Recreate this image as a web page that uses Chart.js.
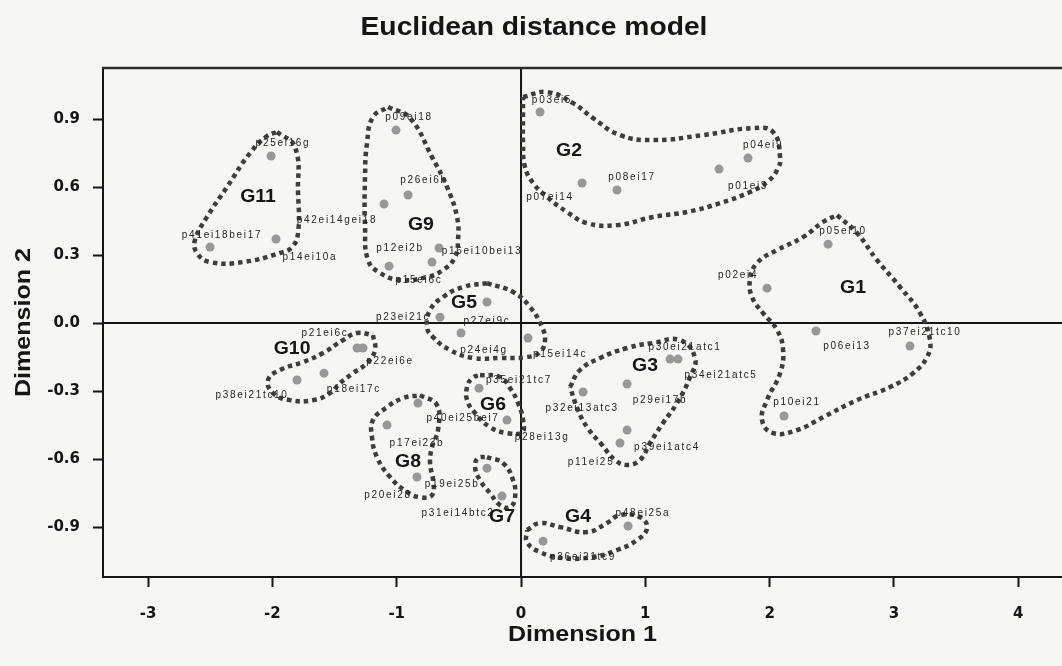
<!DOCTYPE html>
<html lang="en">
<head>
    <meta charset="UTF-8">
    <title>Euclidean distance model</title>
    <script src="https://cdn.jsdelivr.net/npm/chart.js@4.4.1/dist/chart.umd.min.js"></script>
    <style>
        html, body {
            margin: 0;
            padding: 0;
            background: #f6f6f4;
        }
        .chart-box {
            width: 1062px;
            height: 666px;
        }
    </style>
</head>
<body>
    <div class="chart-box">
        <canvas id="mdsChart"></canvas>
    </div>

    <script>
        // stimulus coordinates (dimension 1, dimension 2)
        const pointNames = [
            'p25ei16g', 'p41ei18bei17', 'p14ei10a',
            'p09ei18', 'p26ei6h', 'p42ei14gei18', 'p16ei10bei13', 'p15ei6c', 'p12ei2b',
            'p03ei5', 'p07ei14', 'p08ei17', 'p01ei3', 'p04ei9',
            'p05ei10', 'p02ei4', 'p06ei13', 'p37ei21tc10', 'p10ei21',
            'p21ei6c', 'p22ei6e', 'p18ei17c', 'p38ei21tc10',
            'p23ei21c', 'p27ei9c', 'p24ei4g', 'p15ei14c',
            'p35ei21tc7', 'p28ei13g', 'p40ei25bei7', 'p17ei23b', 'p20ei28', 'p19ei25b', 'p31ei14btc2',
            'p30ei21atc1', 'p34ei21atc5', 'p29ei17b', 'p32ei13atc3', 'p39ei1atc4', 'p11ei25',
            'p48ei25a', 'p36ei21tc9'
        ];
        const dim1 = [
            -2.011, -2.502, -1.971,
            -1.006, -0.909, -1.102, -0.660, -0.716, -1.062,
            0.153, 0.491, 0.772, 1.593, 1.826,
            2.470, 1.979, 2.373, 3.129, 2.116,
            -1.319, -1.271, -1.585, -1.802,
            -0.652, -0.274, -0.483, 0.056,
            -0.338, -0.113, -0.829, -1.078, -0.837, -0.274, -0.153,
            1.199, 1.263, 0.853, 0.499, 0.853, 0.796,
            0.861, 0.177
        ];
        const dim2 = [
            0.737, 0.335, 0.371,
            0.851, 0.565, 0.525, 0.331, 0.269, 0.251,
            0.931, 0.618, 0.587, 0.679, 0.728,
            0.348, 0.154, -0.035, -0.101, -0.410,
            -0.110, -0.110, -0.221, -0.251,
            0.026, 0.093, -0.044, -0.066,
            -0.287, -0.428, -0.353, -0.450, -0.679, -0.640, -0.763,
            -0.159, -0.159, -0.269, -0.304, -0.472, -0.529,
            -0.895, -0.962
        ];
        // where each stimulus name sits, in the same units
        const labelDim1 = [
            -1.915, -2.405, -1.698,
            -0.901, -0.780, -1.480, -0.314, -0.821, -0.973,
            0.249, 0.233, 0.893, 1.826, 1.947,
            2.590, 1.746, 2.623, 3.250, 2.220,
            -1.577, -1.054, -1.344, -2.164,
            -0.949, -0.274, -0.298, 0.314,
            -0.016, 0.169, -0.467, -0.837, -1.070, -0.555, -0.507,
            1.319, 1.609, 1.118, 0.491, 1.175, 0.563,
            0.981, 0.499
        ];
        const labelDim2 = [
            0.794, 0.388, 0.291,
            0.909, 0.631, 0.454, 0.318, 0.190, 0.331,
            0.984, 0.556, 0.644, 0.604, 0.785,
            0.406, 0.212, -0.101, -0.040, -0.348,
            -0.044, -0.168, -0.291, -0.318,
            0.026, 0.009, -0.119, -0.137,
            -0.251, -0.503, -0.419, -0.529, -0.759, -0.710, -0.838,
            -0.106, -0.229, -0.340, -0.375, -0.547, -0.613,
            -0.838, -1.032
        ];

        // cluster names and where they are written
        const groupNames = ['G1', 'G2', 'G3', 'G4', 'G5', 'G6', 'G7', 'G8', 'G9', 'G10', 'G11'];
        const groupDim1 = [2.671, 0.386, 0.998, 0.459, -0.459, -0.225, -0.153, -0.909, -0.805, -1.842, -2.116];
        const groupDim2 = [0.154, 0.759, -0.190, -0.856, 0.088, -0.362, -0.856, -0.613, 0.432, -0.115, 0.556];

        // hand drawn cluster boundaries
        const outlineG1 = [[2.542, 0.476], [2.703, 0.397], [2.864, 0.278], [3.049, 0.159], [3.210, 0.044], [3.290, -0.075], [3.266, -0.150], [3.154, -0.221], [2.969, -0.282], [2.703, -0.340], [2.430, -0.415], [2.220, -0.472], [2.027, -0.485], [1.939, -0.428], [1.979, -0.340], [2.084, -0.221], [2.108, -0.119], [2.060, -0.031], [1.947, 0.044], [1.858, 0.115], [1.842, 0.190], [1.899, 0.265], [2.060, 0.322], [2.269, 0.379], [2.430, 0.446]];
        const outlineG2 = [[0.016, 0.997], [0.209, 1.019], [0.418, 0.970], [0.579, 0.904], [0.796, 0.829], [1.062, 0.807], [1.464, 0.829], [1.866, 0.860], [2.027, 0.843], [2.084, 0.732], [2.060, 0.675], [1.979, 0.622], [1.842, 0.578], [1.601, 0.529], [1.335, 0.490], [1.062, 0.468], [0.772, 0.432], [0.531, 0.441], [0.370, 0.490], [0.209, 0.556], [0.097, 0.618], [0.032, 0.688], [0.016, 0.794], [0.016, 0.909]];
        const outlineG3 = [[0.394, -0.282], [0.475, -0.207], [0.636, -0.154], [0.853, -0.110], [1.062, -0.088], [1.279, -0.075], [1.400, -0.154], [1.360, -0.238], [1.255, -0.353], [1.142, -0.441], [1.038, -0.529], [0.957, -0.604], [0.853, -0.626], [0.756, -0.604], [0.652, -0.538], [0.531, -0.459], [0.459, -0.384]];
        const outlineG4 = [[0.048, -0.913], [0.153, -0.882], [0.314, -0.900], [0.531, -0.922], [0.692, -0.882], [0.796, -0.847], [0.957, -0.856], [1.014, -0.904], [0.933, -0.957], [0.772, -1.001], [0.579, -1.032], [0.338, -1.037], [0.153, -1.010], [0.048, -0.966]];
        const outlineG5 = [[-0.274, 0.176], [-0.064, 0.137], [0.072, 0.071], [0.169, -0.018], [0.193, -0.075], [0.153, -0.128], [0.048, -0.150], [-0.169, -0.154], [-0.386, -0.154], [-0.571, -0.119], [-0.708, -0.062], [-0.756, -0.018], [-0.732, 0.057], [-0.628, 0.115], [-0.467, 0.159]];
        const outlineG6 = [[-0.330, -0.229], [-0.169, -0.238], [-0.088, -0.287], [-0.024, -0.353], [0.016, -0.428], [0.008, -0.481], [-0.113, -0.485], [-0.249, -0.459], [-0.370, -0.397], [-0.434, -0.340], [-0.434, -0.282], [-0.394, -0.243]];
        const outlineG7 = [[-0.274, -0.591], [-0.145, -0.618], [-0.064, -0.693], [-0.048, -0.768], [-0.088, -0.812], [-0.169, -0.803], [-0.249, -0.750], [-0.330, -0.693], [-0.370, -0.635], [-0.346, -0.596]];
        const outlineG8 = [[-0.813, -0.318], [-0.676, -0.362], [-0.668, -0.472], [-0.716, -0.547], [-0.732, -0.618], [-0.708, -0.693], [-0.716, -0.759], [-0.813, -0.768], [-0.917, -0.745], [-1.054, -0.679], [-1.159, -0.591], [-1.199, -0.503], [-1.191, -0.428], [-1.078, -0.371], [-0.949, -0.331]];
        const outlineG9 = [[-1.070, 0.953], [-0.893, 0.904], [-0.716, 0.732], [-0.595, 0.600], [-0.515, 0.468], [-0.507, 0.366], [-0.531, 0.291], [-0.628, 0.234], [-0.756, 0.203], [-0.973, 0.190], [-1.134, 0.221], [-1.231, 0.278], [-1.255, 0.423], [-1.255, 0.644], [-1.239, 0.794], [-1.191, 0.909]];
        const outlineG10 = [[-1.191, -0.053], [-1.175, -0.119], [-1.239, -0.176], [-1.352, -0.221], [-1.456, -0.265], [-1.537, -0.309], [-1.673, -0.340], [-1.858, -0.340], [-1.995, -0.309], [-2.035, -0.251], [-1.939, -0.207], [-1.754, -0.172], [-1.593, -0.132], [-1.432, -0.075], [-1.319, -0.044]];
        const outlineG11 = [[-1.963, 0.843], [-1.818, 0.776], [-1.794, 0.573], [-1.794, 0.397], [-1.842, 0.335], [-1.939, 0.309], [-2.237, 0.269], [-2.502, 0.269], [-2.607, 0.309], [-2.623, 0.366], [-2.526, 0.468], [-2.365, 0.600], [-2.180, 0.750], [-2.043, 0.825]];

        const xTicks = [-3, -2, -1, 0, 1, 2, 3, 4];
        const yTicks = [-0.9, -0.6, -0.3, 0, 0.3, 0.6, 0.9];

        const FONT = "'Liberation Sans', Arial, sans-serif";
        const TICK_FONT = "'DejaVu Sans', sans-serif";
        const INK = '#151515';

        const outlines = [outlineG1, outlineG2, outlineG3, outlineG4, outlineG5, outlineG6,
                          outlineG7, outlineG8, outlineG9, outlineG10, outlineG11];

        const outlineSets = outlines.map(function (pts) {
            const data = pts.map(p => ({ x: p[0], y: p[1] }));
            data.push({ x: pts[0][0], y: pts[0][1] });
            return {
                data: data,
                showLine: true,
                tension: 0.45,
                borderColor: '#3d3d3d',
                borderWidth: 4.5,
                borderDash: [4.5, 4],
                borderCapStyle: 'butt',
                pointRadius: 0,
                pointHoverRadius: 0,
                fill: false,
                order: 1
            };
        });

        const pointSet = {
            data: dim1.map((x, i) => ({ x: x, y: dim2[i] })),
            backgroundColor: '#989898',
            borderWidth: 0,
            pointRadius: 4.5,
            order: 2
        };

        // text stretched a little wider than the plain face
        function wideText(ctx, text, x, y, stretch) {
            ctx.save();
            ctx.translate(x, y);
            ctx.scale(stretch, 1);
            ctx.fillText(text, 0, 0);
            ctx.restore();
        }

        // axes at zero, frame top, titles and all names
        const decorations = {
            id: 'decorations',
            beforeDraw(chart) {
                const ctx = chart.ctx;
                ctx.save();
                ctx.fillStyle = '#f6f6f4';
                ctx.fillRect(0, 0, chart.width, chart.height);
                ctx.restore();
            },
            beforeDatasetsDraw(chart) {
                const ctx = chart.ctx;
                const a = chart.chartArea;
                const xs = chart.scales.x, ys = chart.scales.y;
                const x0 = xs.getPixelForValue(0);
                const y0 = ys.getPixelForValue(0);
                ctx.save();
                ctx.strokeStyle = INK;
                ctx.lineWidth = 2;
                ctx.beginPath();
                ctx.moveTo(x0, a.top);
                ctx.lineTo(x0, a.bottom);
                ctx.moveTo(a.left, y0);
                ctx.lineTo(a.right, y0);
                ctx.stroke();
                ctx.lineWidth = 2.5;
                ctx.strokeStyle = '#2a2a2a';
                ctx.beginPath();
                ctx.moveTo(a.left - 1, a.top);
                ctx.lineTo(a.right, a.top);
                ctx.stroke();
                ctx.restore();
            },
            afterDatasetsDraw(chart) {
                const ctx = chart.ctx;
                const xs = chart.scales.x, ys = chart.scales.y;
                ctx.save();
                ctx.fillStyle = '#262626';
                ctx.font = '10px ' + FONT;
                ctx.letterSpacing = '1.7px';
                ctx.textAlign = 'center';
                ctx.textBaseline = 'middle';
                pointNames.forEach(function (name, i) {
                    ctx.fillText(name, xs.getPixelForValue(labelDim1[i]), ys.getPixelForValue(labelDim2[i]));
                });
                ctx.letterSpacing = '0px';
                ctx.fillStyle = INK;
                ctx.font = 'bold 18px ' + FONT;
                groupNames.forEach(function (name, i) {
                    wideText(ctx, name, xs.getPixelForValue(groupDim1[i]), ys.getPixelForValue(groupDim2[i]), 1.08);
                });
                ctx.restore();
            },
            afterDraw(chart) {
                const ctx = chart.ctx;
                const a = chart.chartArea;
                ctx.save();
                ctx.fillStyle = INK;
                ctx.textAlign = 'center';
                ctx.textBaseline = 'alphabetic';
                ctx.font = 'bold 25px ' + FONT;
                wideText(ctx, 'Euclidean distance model', 534, 35, 1.13);
                ctx.font = 'bold 22px ' + FONT;
                wideText(ctx, 'Dimension 1', (a.left + a.right) / 2, 641, 1.14);
                ctx.translate(30, (a.top + a.bottom) / 2);
                ctx.rotate(-Math.PI / 2);
                wideText(ctx, 'Dimension 2', 0, 0, 1.14);
                ctx.restore();
            }
        };

        const ctx = document.getElementById('mdsChart').getContext('2d');
        new Chart(ctx, {
            type: 'scatter',
            data: { datasets: [pointSet].concat(outlineSets) },
            options: {
                responsive: true,
                maintainAspectRatio: false,
                animation: false,
                events: [],
                layout: { autoPadding: false, padding: { top: 68, right: 0, bottom: 0, left: 0 } },
                plugins: {
                    legend: { display: false },
                    title: { display: false },
                    tooltip: { enabled: false }
                },
                scales: {
                    x: {
                        type: 'linear',
                        min: -3.363,
                        max: 4.352,
                        afterBuildTicks: s => { s.ticks = xTicks.map(v => ({ value: v })); },
                        afterFit: s => { s.height = 89; s.paddingLeft = 0; s.paddingRight = 0; },
                        ticks: {
                            padding: 18,
                            color: INK,
                            font: { family: TICK_FONT, size: 15, weight: 'bold' },
                            callback: v => String(v)
                        },
                        grid: { drawOnChartArea: false, drawTicks: true, tickLength: 10, tickColor: INK, tickWidth: 2 },
                        border: { display: true, color: INK, width: 2 }
                    },
                    y: {
                        type: 'linear',
                        min: -1.120,
                        max: 1.125,
                        afterBuildTicks: s => { s.ticks = yTicks.map(v => ({ value: v })); },
                        afterFit: s => { s.width = 103; s.paddingTop = 0; s.paddingBottom = 0; },
                        ticks: {
                            padding: 13,
                            color: INK,
                            font: { family: TICK_FONT, size: 15, weight: 'bold' },
                            callback: v => v.toFixed(1)
                        },
                        grid: { drawOnChartArea: false, drawTicks: true, tickLength: 10, tickColor: INK, tickWidth: 2 },
                        border: { display: true, color: INK, width: 2 }
                    }
                }
            },
            plugins: [decorations]
        });
    </script>
</body>
</html>
